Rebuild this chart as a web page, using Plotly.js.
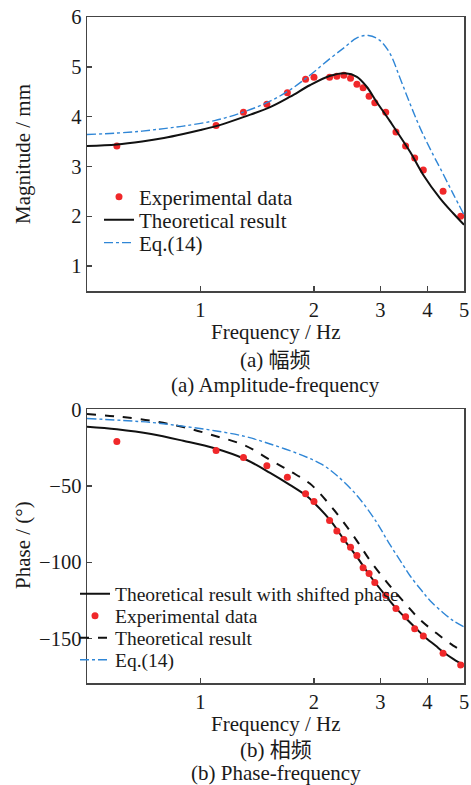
<!DOCTYPE html>
<html>
<head>
<meta charset="utf-8">
<script src="https://cdn.plot.ly/plotly-3.0.1.min.js"></script>
<style>html,body{margin:0;padding:0;background:#fff;}</style>
</head>
<body>
<div id="chart" style="width:471px;height:785px;"></div>
<script>
// ---------- Data ----------
const freqExp = [0.6, 1.1, 1.3, 1.5, 1.7, 1.9, 2.0, 2.2, 2.3, 2.4, 2.5, 2.6, 2.7, 2.8, 2.9, 3.1, 3.3, 3.5, 3.7, 3.9, 4.4, 4.9];
const magExp = [3.41, 3.82, 4.09, 4.25, 4.48, 4.75, 4.79, 4.79, 4.81, 4.83, 4.77, 4.65, 4.58, 4.41, 4.28, 4.09, 3.69, 3.41, 3.17, 2.93, 2.50, 2.00];
const phaseExp = [-20.9, -26.9, -31.5, -36.9, -44.3, -55.2, -60.2, -72.6, -79.5, -85.1, -90.2, -95.6, -103.6, -107.4, -113.2, -121.5, -130.2, -135.7, -143.5, -148.3, -159.6, -167.2];

const freqTheoMag = [0.5, 0.6, 0.7, 0.8, 0.9, 1.0, 1.1, 1.2, 1.31, 1.53, 1.73, 1.95, 2.21, 2.42, 2.6, 2.76, 2.93, 3.18, 3.6, 3.9, 4.32, 4.68, 5.0];
const magTheo = [3.41, 3.44, 3.50, 3.57, 3.65, 3.73, 3.81, 3.90, 4.00, 4.19, 4.40, 4.63, 4.82, 4.87, 4.80, 4.60, 4.30, 3.91, 3.29, 2.83, 2.36, 2.06, 1.83];

const freqEqMag = [0.5, 0.6, 0.7, 0.8, 0.9, 1.09, 1.31, 1.53, 1.73, 1.95, 2.21, 2.42, 2.6, 2.79, 2.99, 3.18, 3.38, 3.6, 3.82, 4.15, 4.32, 4.68, 5.0];
const magEq = [3.64, 3.67, 3.71, 3.76, 3.81, 3.92, 4.10, 4.31, 4.54, 4.83, 5.17, 5.40, 5.58, 5.63, 5.53, 5.27, 4.78, 4.25, 3.78, 3.22, 2.97, 2.45, 2.03];

const freqShiftPh = [0.5, 0.6, 0.74, 0.9, 1.09, 1.31, 1.53, 1.73, 1.91, 2.0, 2.21, 2.4, 2.6, 2.8, 3.1, 3.3, 3.5, 3.72, 3.92, 4.2, 4.42, 4.7, 5.0];
const phShift = [-11.3, -13.0, -16.1, -20.5, -25.4, -32.4, -41.5, -49.5, -56.5, -61, -72.6, -85, -96.5, -108, -122, -130, -136.5, -143, -148.5, -154.5, -159, -163.5, -167.5];

const freqTheoPh = [0.5, 0.6, 0.74, 0.9, 1.09, 1.31, 1.53, 1.73, 1.95, 2.21, 2.45, 2.63, 2.82, 3.12, 3.45, 3.82, 4.23, 4.68, 5.0];
const phTheo = [-3.0, -4.6, -7.4, -11.5, -17.2, -23.5, -33, -40.5, -48.5, -62.8, -77, -87.8, -99, -113, -125.5, -137.5, -146.5, -154.5, -158.5];

const freqEqPh = [0.5, 0.74, 0.9, 1.09, 1.31, 1.53, 1.87, 2.1, 2.3, 2.6, 2.93, 3.15, 3.45, 3.6, 3.86, 4.06, 4.4, 4.7, 5.0];
const phEq = [-5.9, -8.5, -11, -13.9, -17.6, -22.6, -30.2, -36, -43.2, -56.3, -73.7, -86.8, -102, -109, -118.5, -125, -133, -138.5, -142.2];

const xTickVals = [1, 2, 3, 4, 5];
const xTickText = ['1', '2', '3', '4', '5'];
const magTickVals = [1, 2, 3, 4, 5, 6];
const phaseTickVals = [0, -50, -100, -150];

// ---------- Styles ----------
const RED = '#f0282a';
const BLUE = '#2f86d6';
const BLACK = '#111111';
const FONT = 'Liberation Serif, Times New Roman, Noto Sans CJK SC, serif';
const TXT = '#1a1a1a';

const traces = [
  {x: freqExp, y: magExp, xaxis: 'x', yaxis: 'y', mode: 'markers', name: 'Experimental data',
   marker: {color: RED, size: 7}, legend: 'legend'},
  {x: freqTheoMag, y: magTheo, xaxis: 'x', yaxis: 'y', mode: 'lines', name: 'Theoretical result',
   line: {color: BLACK, width: 2, shape: 'spline'}, legend: 'legend2'},
  {x: freqEqMag, y: magEq, xaxis: 'x', yaxis: 'y', mode: 'lines', name: 'Eq.(14)',
   line: {color: BLUE, width: 1.4, dash: 'dashdot', shape: 'spline'}, legend: 'legend3'},

  {x: freqShiftPh, y: phShift, xaxis: 'x2', yaxis: 'y2', mode: 'lines', name: 'Theoretical result with shifted phase',
   line: {color: BLACK, width: 2, shape: 'spline'}, legend: 'legend4'},
  {x: freqExp, y: phaseExp, xaxis: 'x2', yaxis: 'y2', mode: 'markers', name: 'Experimental data',
   marker: {color: RED, size: 7}, legend: 'legend5'},
  {x: freqTheoPh, y: phTheo, xaxis: 'x2', yaxis: 'y2', mode: 'lines', name: 'Theoretical result',
   line: {color: BLACK, width: 2, dash: 'dash', shape: 'spline'}, legend: 'legend6'},
  {x: freqEqPh, y: phEq, xaxis: 'x2', yaxis: 'y2', mode: 'lines', name: 'Eq.(14)',
   line: {color: BLUE, width: 1.4, dash: 'dashdot', shape: 'spline'}, legend: 'legend7'}
];

const axisCommon = {
  showline: true, linecolor: '#444', linewidth: 1.5, mirror: true,
  ticks: 'inside', ticklen: 5, tickwidth: 1.5, tickcolor: '#444',
  showgrid: false, zeroline: false, fixedrange: true,
  tickfont: {family: FONT, size: 20.5, color: TXT}
};

function leg(x, y, size) {
  return {x: x, y: y, xanchor: 'left', yanchor: 'middle', bgcolor: 'rgba(0,0,0,0)',
          borderwidth: 0, font: {family: FONT, size: size, color: TXT}, itemclick: false};
}
// pixel helpers for placing legends/annotations (plot area: x 87..464, y 17..683)
const px = v => (v - 87) / 377;
const py = v => (683 - v) / 666;

const annFont = {family: FONT, size: 21, color: TXT};
function ann(text, x, y, angle) {
  return {text: text, xref: 'paper', yref: 'paper', x: x, y: y, xanchor: 'center', yanchor: 'middle',
          showarrow: false, font: annFont, textangle: angle || 0};
}

const layout = {
  width: 471, height: 785,
  margin: {l: 87, r: 7, t: 17, b: 102},
  paper_bgcolor: '#fff', plot_bgcolor: '#fff',
  font: {family: FONT, size: 21, color: TXT},
  showlegend: true,
  xaxis: Object.assign({}, axisCommon, {type: 'log', range: [Math.log10(0.5), Math.log10(5)],
    tickvals: xTickVals, ticktext: xTickText, anchor: 'y', domain: [0, 1]}),
  yaxis: Object.assign({}, axisCommon, {range: [0.5, 6], tickvals: magTickVals,
    domain: [py(291), 1], anchor: 'x'}),
  xaxis2: Object.assign({}, axisCommon, {type: 'log', range: [Math.log10(0.5), Math.log10(5)],
    tickvals: xTickVals, ticktext: xTickText, anchor: 'y2', domain: [0, 1]}),
  yaxis2: Object.assign({}, axisCommon, {range: [-179, 0.3], tickvals: phaseTickVals,
    domain: [0, py(409)], anchor: 'x2'}),
  legend: leg(px(99), py(197), 21),
  legend2: leg(px(99), py(220), 21),
  legend3: leg(px(99), py(243), 21),
  legend4: leg(px(75), py(594), 19.5),
  legend5: leg(px(75), py(616), 19.5),
  legend6: leg(px(75), py(638), 19.5),
  legend7: leg(px(75), py(660), 19.5),
  annotations: [
    ann('Magnitude / mm', px(23), py(154), -90),
    ann('Frequency / Hz', 0.5, py(332)),
    ann('(a) 幅频', 0.5, py(360)),
    ann('(a) Amplitude-frequency', 0.5, py(385)),
    ann('Phase / (°)', px(23), py(545), -90),
    ann('Frequency / Hz', 0.5, py(723.5)),
    ann('(b) 相频', 0.5, py(750)),
    ann('(b) Phase-frequency', 0.5, py(773))
  ]
};

Plotly.newPlot('chart', traces, layout, {staticPlot: true, displayModeBar: false});
</script>
</body>
</html>
